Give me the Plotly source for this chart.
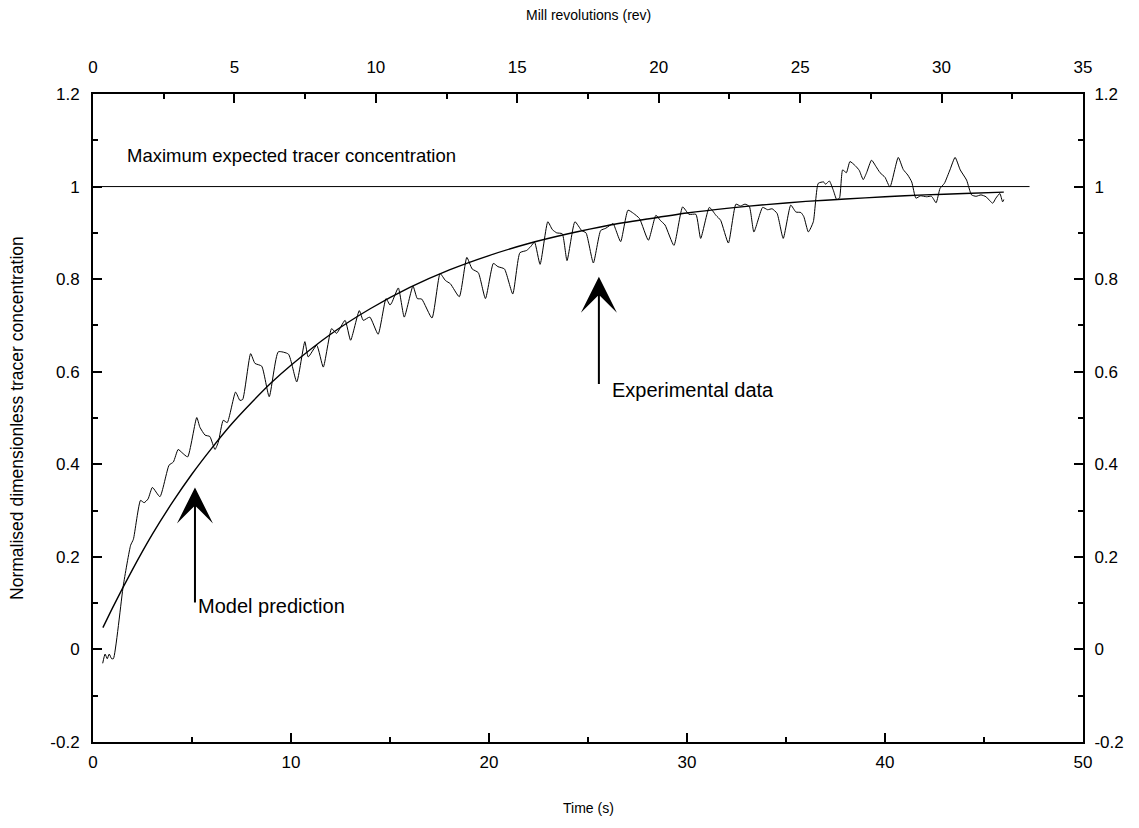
import plotly.graph_objects as go

# Measured tracer response: time (s) and normalised concentration
exp_time = [0.49, 0.61, 0.72, 0.82, 0.94, 1.03, 1.53, 1.9, 2.04, 2.4, 2.58, 2.78, 3.0, 3.38,
            3.84, 4.06, 4.3, 4.5, 4.78, 5.24, 5.4, 5.66, 5.9, 6.16, 6.33, 6.58, 6.78, 7.2,
            7.42, 7.56, 7.96, 8.18, 8.52, 8.9, 9.36, 9.87, 10.29, 10.7, 10.87, 11.3, 11.63,
            12.05, 12.3, 12.73, 13.01, 13.45, 13.65, 13.98, 14.4, 14.8, 15.0, 15.1, 15.42,
            15.72, 16.16, 16.38, 16.6, 17.12, 17.53, 17.8, 18.05, 18.5, 18.88, 19.15, 19.46,
            19.82, 20.22, 20.45, 20.78, 21.2, 21.56, 21.9, 22.1, 22.3, 22.58, 22.97, 23.2,
            23.42, 23.7, 23.94, 24.34, 24.68, 24.9, 25.27, 25.64, 25.9, 26.27, 26.4, 26.65,
            27.02, 27.3, 27.6, 28.05, 28.43, 28.65, 28.89, 29.34, 29.78, 30.1, 30.45, 30.69,
            31.13, 31.46, 31.7, 32.09, 32.47, 32.7, 32.93, 33.15, 33.38, 33.82, 34.07, 34.3,
            34.55, 34.86, 35.24, 35.5, 35.75, 35.9, 36.13, 36.38, 36.63, 36.9, 37.0, 37.19,
            37.39, 37.56, 37.7, 37.86, 38.05, 38.23, 38.5, 38.7, 38.9, 39.07, 39.32, 39.55,
            39.75, 40.0, 40.25, 40.67, 40.92, 41.15, 41.35, 41.56, 41.8, 42.1, 42.35, 42.58,
            42.78, 43.0, 43.28, 43.54, 43.8, 44.12, 44.37, 44.6, 44.85, 45.1, 45.44, 45.6,
            45.8, 45.94, 46.0]
exp_conc = [-0.03, -0.01, -0.02, -0.01, -0.02, -0.02, 0.138, 0.225, 0.238, 0.322, 0.317, 0.325,
            0.35, 0.33, 0.398, 0.405, 0.432, 0.425, 0.416, 0.501, 0.48, 0.463, 0.46, 0.432,
            0.448, 0.495, 0.49, 0.556, 0.538, 0.54, 0.639, 0.618, 0.612, 0.546, 0.643, 0.638,
            0.578, 0.665, 0.632, 0.657, 0.61, 0.693, 0.683, 0.711, 0.668, 0.732, 0.711, 0.718,
            0.681, 0.758, 0.744, 0.75, 0.781, 0.718, 0.785, 0.758, 0.757, 0.716, 0.812, 0.797,
            0.79, 0.762, 0.847, 0.822, 0.814, 0.758, 0.834, 0.827, 0.822, 0.768, 0.857, 0.862,
            0.87, 0.88, 0.832, 0.924, 0.907, 0.9, 0.898, 0.84, 0.924, 0.905, 0.9, 0.835, 0.905,
            0.91, 0.92, 0.907, 0.881, 0.949, 0.942, 0.931, 0.884, 0.938, 0.927, 0.917, 0.873,
            0.956, 0.94, 0.94, 0.888, 0.955, 0.938, 0.927, 0.878, 0.962, 0.958, 0.962, 0.957,
            0.902, 0.955, 0.95, 0.952, 0.942, 0.888, 0.96, 0.945, 0.944, 0.935, 0.902, 0.924,
            1.007, 1.01, 1.005, 1.012, 0.992, 0.972, 0.975, 1.036, 1.03, 1.054, 1.045, 1.035,
            1.015, 1.03, 1.057, 1.043, 1.03, 1.02, 0.999, 1.063, 1.037, 1.025, 1.01, 0.975,
            0.98, 0.978, 0.979, 0.965, 0.996, 1.007, 1.036, 1.063, 1.036, 1.014, 0.982, 0.979,
            0.982, 0.978, 0.964, 0.975, 0.985, 0.967, 0.972]

# Model prediction curve
model_time = [0.5, 1, 2, 3, 4, 5, 6, 7, 8, 9, 10, 12, 14, 16, 18, 20, 22, 24, 26, 28, 30,
              32, 34, 36, 38, 40, 42, 44, 46]
model_conc = [0.047, 0.091, 0.173, 0.249, 0.317, 0.379, 0.435, 0.487, 0.533, 0.576, 0.614,
              0.681, 0.736, 0.782, 0.820, 0.851, 0.877, 0.898, 0.916, 0.930, 0.943, 0.953,
              0.961, 0.968, 0.973, 0.978, 0.982, 0.985, 0.988]

# Maximum expected concentration reference line
max_time = [0, 47.3]
max_conc = [1.0, 1.0]

# Axis ticks
time_ticks = [0, 10, 20, 30, 40, 50]
rev_ticks = [0, 5, 10, 15, 20, 25, 30, 35]
conc_ticks = [-0.2, 0, 0.2, 0.4, 0.6, 0.8, 1.0, 1.2]
conc_labels = ["-0.2", "0", "0.2", "0.4", "0.6", "0.8", "1", "1.2"]

FONT = "Arial, Liberation Sans, Helvetica, sans-serif"
TICK_SIZE = 17

fig = go.Figure()
fig.add_trace(go.Scatter(x=max_time, y=max_conc, mode="lines",
                         line=dict(color="black", width=1), hoverinfo="skip"))
fig.add_trace(go.Scatter(x=model_time, y=model_conc, mode="lines",
                         line=dict(color="black", width=1.4, shape="spline", smoothing=0.6)))
fig.add_trace(go.Scatter(x=exp_time, y=exp_conc, mode="lines",
                         line=dict(color="black", width=1, shape="spline", smoothing=0.5)))
# Secondary axes (revolutions on top, mirrored concentration on right)
fig.add_trace(go.Scatter(x=[0, 35], y=[-0.2, 1.2], xaxis="x2", yaxis="y2", mode="lines",
                         line=dict(width=0, color="rgba(0,0,0,0)"), hoverinfo="skip"))

axis_common = dict(showgrid=False, zeroline=False, showline=True, linecolor="black",
                   linewidth=2, ticks="inside", ticklen=9, tickwidth=1.5, tickcolor="black",
                   tickfont=dict(family=FONT, size=TICK_SIZE, color="black"))
minor_common = dict(ticks="inside", ticklen=5, tickwidth=1.5, tickcolor="black")

fig.update_layout(
    width=1139, height=828,
    margin=dict(l=93, r=56, t=94, b=86),
    paper_bgcolor="white", plot_bgcolor="white",
    showlegend=False,
    font=dict(family=FONT, size=14, color="black"),
    xaxis=dict(range=[0, 50], tickvals=time_ticks, ticklabelstandoff=4,
               minor=dict(dtick=5, **minor_common), **axis_common),
    xaxis2=dict(range=[0, 35], tickvals=rev_ticks, overlaying="x", side="top", anchor="y",
                ticklabelstandoff=12, minor=dict(dtick=2.5, **minor_common), **axis_common),
    yaxis=dict(range=[-0.2, 1.2], tickvals=conc_ticks, ticktext=conc_labels,
               ticklabelstandoff=8, minor=dict(dtick=0.1, **minor_common), **axis_common),
    yaxis2=dict(range=[-0.2, 1.2], tickvals=conc_ticks, ticktext=conc_labels,
                overlaying="y", side="right", anchor="x", ticklabelstandoff=6,
                minor=dict(dtick=0.1, **minor_common), **axis_common),
)

annotations = [
    # Axis titles
    dict(text="Time (s)", xref="paper", yref="paper", x=0.5, y=-0.102,
         xanchor="center", yanchor="middle", font=dict(size=14), showarrow=False),
    dict(text="Mill revolutions (rev)", xref="paper", yref="paper", x=0.5, y=1.122,
         xanchor="center", yanchor="middle", font=dict(size=14), showarrow=False),
    dict(text="Normalised dimensionless tracer concentration", xref="paper", yref="paper",
         x=-0.0768, y=0.5, xanchor="center", yanchor="middle", textangle=-90,
         font=dict(size=17.5), showarrow=False),
    # In-plot labels
    dict(text="Maximum expected tracer concentration", x=1.6, y=1.068, xanchor="left",
         yanchor="middle", font=dict(size=18.5), showarrow=False),
    dict(text="Model prediction", x=5.2, y=0.094, xanchor="left", yanchor="middle",
         font=dict(size=20), showarrow=False),
    dict(text="Experimental data", x=26.1, y=0.56, xanchor="left", yanchor="middle",
         font=dict(size=20), showarrow=False),
    # Arrows
    dict(text="", x=5.15, y=0.35, ax=5.15, ay=0.098, axref="x", ayref="y",
         showarrow=True, arrowhead=3, arrowsize=3.0, arrowwidth=2, arrowcolor="black",
         standoff=0, startstandoff=0),
    dict(text="", x=25.55, y=0.805, ax=25.55, ay=0.57, axref="x", ayref="y",
         showarrow=True, arrowhead=3, arrowsize=3.0, arrowwidth=2, arrowcolor="black",
         standoff=0, startstandoff=0),
]
fig.update_layout(annotations=annotations)

fig.write_html("out.html")
